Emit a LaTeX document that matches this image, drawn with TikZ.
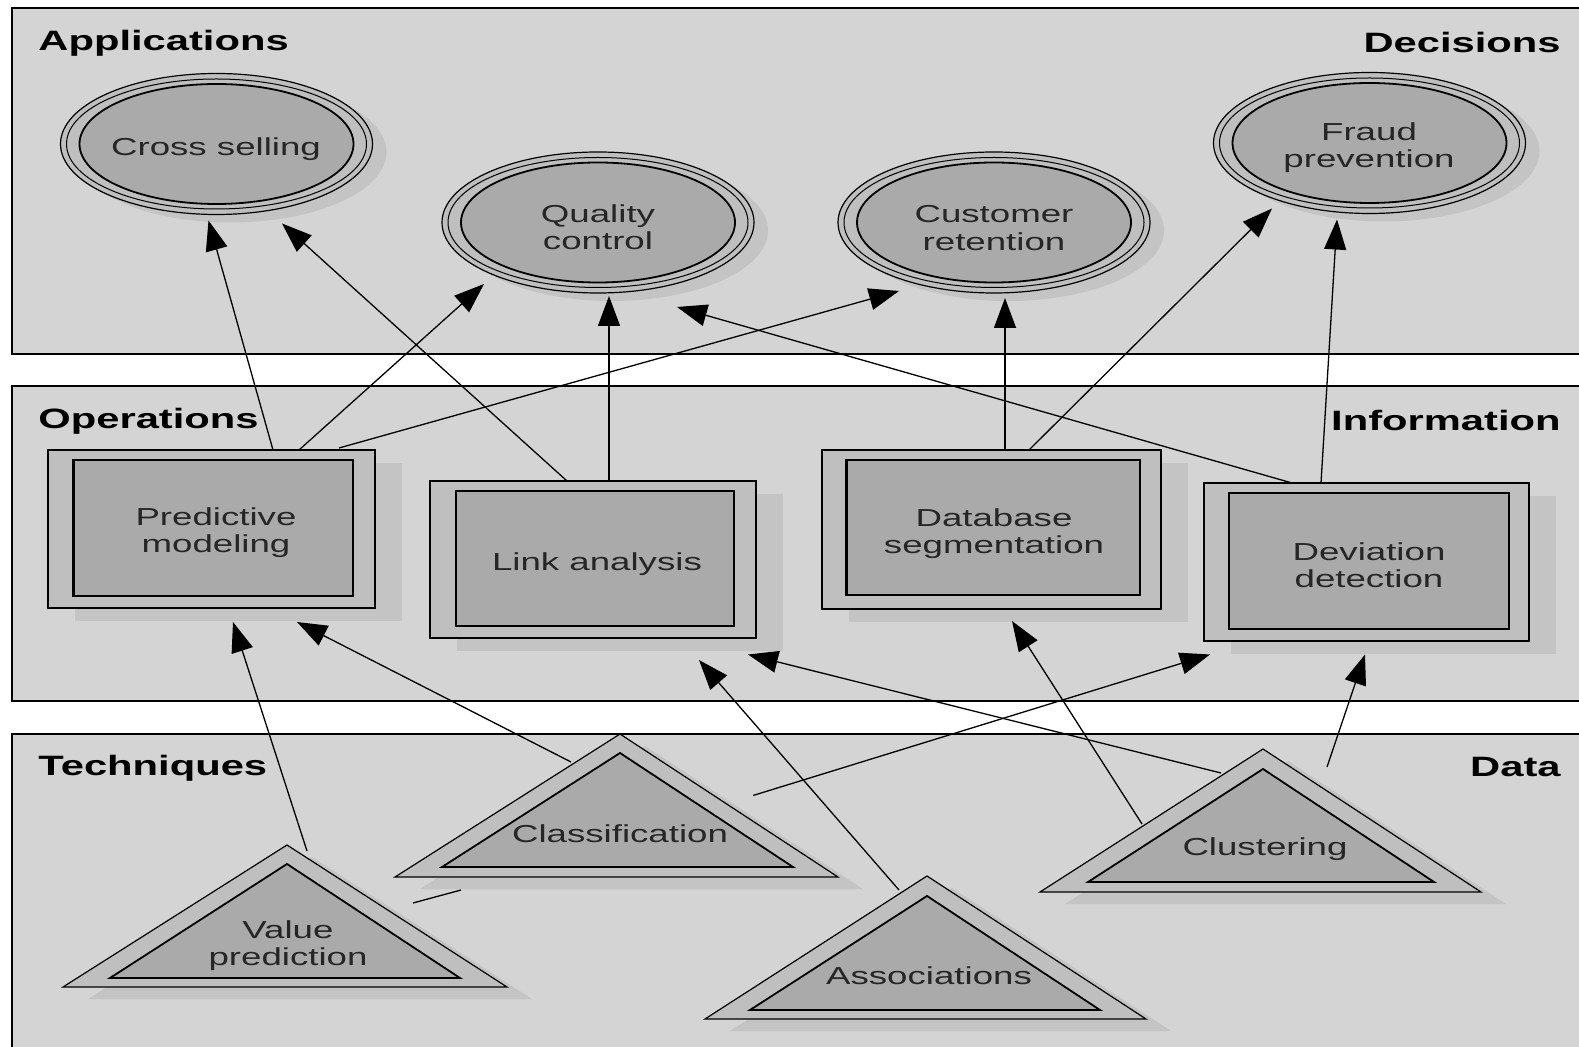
\documentclass[tikz,border=0pt]{standalone}
\usepackage{fontspec}
\setmainfont{Liberation Sans}[FakeStretch=1.49]
\usetikzlibrary{arrows.meta,calc}

\definecolor{panelgray}{gray}{0.83}
\definecolor{castgray}{gray}{0.77}
\definecolor{ringgray}{gray}{0.75}
\definecolor{coregray}{gray}{0.665}
\definecolor{labelink}{gray}{0.15}

% ring-shaped decision oval centred on (#1,#2)
\newcommand\decisionoval[2]{%
  \fill[castshade] (#1+14,#2+8) ellipse [x radius=156, y radius=70.5];
  \draw[ring] (#1,#2) ellipse [x radius=156, y radius=70.5];
  \draw[thinline] (#1,#2) ellipse [x radius=150, y radius=65];
  \draw[core] (#1,#2) ellipse [x radius=137, y radius=60];
}
% framed operation box: outer corners, then inner corners
\newcommand\operationbox[8]{%
  \fill[castshade] (#1+27,#2+13) rectangle (#3+27,#4+13);
  \draw[ring] (#1,#2) rectangle (#3,#4);
  \draw[core] (#5,#6) rectangle (#7,#8);
}
% technique triangle: apex x, apex y, base y, base left, base right,
% inner apex y, inner base y, inner base left, inner base right
\newcommand\techtriangle[9]{%
  \fill[castshade] (#1+25,#2+12) -- (#5+25,#3+12) -- (#4+25,#3+12) -- cycle;
  \draw[ring] (#1,#2) -- (#5,#3) -- (#4,#3) -- cycle;
  \draw[core] (#1,#6) -- (#9,#7) -- (#8,#7) -- cycle;
}

\begin{document}
\begin{tikzpicture}[x=0.5pt,y=-0.5pt,
  panel/.style={fill=panelgray, draw=black, line width=0.9pt},
  heading/.style={font=\fontsize{14}{16}\selectfont\bfseries, inner sep=0pt},
  lbl/.style={font=\fontsize{12.3}{13.6}\selectfont, text=labelink, align=center, inner sep=0pt},
  castshade/.style={fill=castgray},
  ring/.style={fill=ringgray, draw=black, line width=0.6pt},
  thinline/.style={draw=black, line width=0.5pt},
  core/.style={fill=coregray, draw=black, line width=0.9pt},
  conn/.style={draw=black, line width=0.65pt},
  arr/.style={conn, -{Triangle[length=15pt,width=11pt]}},
]
\useasboundingbox (0,0) rectangle (1579,1047);
\clip (0,0) rectangle (1579,1047);
\fill[white] (0,0) rectangle (1579,1047);

% three layers
\draw[panel] (12,8) rectangle (1600,354);
\draw[panel] (12,386) rectangle (1600,701);
\draw[panel] (12,734) rectangle (1600,1070);

\node[heading, anchor=west] (hApp) at (38,43) {Applications};
\node[heading, anchor=east] (hDec) at (1561,42) {Decisions};
\node[heading, anchor=west] (hOps) at (38,421) {Operations};
\node[heading, anchor=east] (hInf) at (1561,420) {Information};
\node[heading, anchor=west] (hTec) at (38,768) {Techniques};
\node[heading, anchor=east] (hDat) at (1561,767) {Data};

% applications
\decisionoval{216.5}{144}
\decisionoval{598}{222.5}
\decisionoval{994}{222.5}
\decisionoval{1369.5}{143}
\node[lbl] (cs) at (216,149) {Cross selling};
\node[lbl] (qc) at (598,227) {Quality\\control};
\node[lbl] (cr) at (994,228) {Customer\\retention};
\node[lbl] (fp) at (1369,148) {Fraud\\prevention};

% operations
\operationbox{48}{450}{375}{608}{73}{460}{353}{596}
\operationbox{430}{481}{756}{638}{456}{491}{734}{626}
\operationbox{822}{450}{1161}{609}{846}{460}{1140}{595}
\operationbox{1204}{483}{1529}{641}{1229}{493}{1509}{629}
\draw[line width=1.8pt] (73.5,460) -- (73.5,596);
\draw[line width=1.8pt] (846.5,460) -- (846.5,595);
\node[lbl] (pm) at (216,533) {Predictive\\modeling};
\node[lbl] (la) at (597,564) {Link analysis};
\node[lbl] (ds) at (994,534) {Database\\segmentation};
\node[lbl] (dd) at (1369,565) {Deviation\\detection};

% techniques
\techtriangle{620}{734}{877}{395}{838}{753}{867}{442}{793}
\techtriangle{287}{845}{987}{63}{507}{864}{978}{110}{460}
\techtriangle{927}{876}{1019}{705}{1146}{896}{1010}{750}{1100}
\techtriangle{1263}{749}{892}{1040}{1481}{769}{882}{1088}{1434}
\node[lbl] (cl) at (620,834) {Classification};
\node[lbl] (vp) at (288,946) {Value\\prediction};
\node[lbl] (as) at (929,976) {Associations};
\node[lbl] (cu) at (1265,849) {Clustering};

% connector end points on the shapes
\coordinate (pm-a) at (273,450);   \coordinate (cs-a) at (208.5,220.5);
\coordinate (pm-b) at (299,450);   \coordinate (qc-a) at (484,284);
\coordinate (pm-c) at (339,448);   \coordinate (cr-a) at (899,291);
\coordinate (la-a) at (567,481);   \coordinate (cs-b) at (282,223.5);
\coordinate (la-b) at (609,481);   \coordinate (qc-b) at (609,296);
\coordinate (dd-a) at (1292,483);  \coordinate (qc-c) at (677,307);
\coordinate (ds-a) at (1005,450);  \coordinate (cr-b) at (1005,298);
\coordinate (ds-b) at (1029,450);  \coordinate (fp-a) at (1272,208.5);
\coordinate (dd-b) at (1321,483);  \coordinate (fp-b) at (1337,219.5);
\coordinate (vp-a) at (307,851);   \coordinate (pm-d) at (233,622);
\coordinate (cl-a) at (571,762);   \coordinate (pm-e) at (297,622);
\coordinate (as-a) at (899,890);   \coordinate (la-c) at (699,660);
\coordinate (cl-b) at (753,795.5); \coordinate (dd-c) at (1210,654.5);
\coordinate (cu-a) at (1221,773);  \coordinate (la-d) at (748,654.5);
\coordinate (cu-b) at (1142,824);  \coordinate (ds-c) at (1012,621);
\coordinate (cu-c) at (1327,767);  \coordinate (dd-d) at (1365,654.5);
\coordinate (vp-b) at (413,903);   \coordinate (vp-c) at (461,890);

% operations feeding decisions
\draw[arr] (pm-a) -- (cs-a);
\draw[arr] (pm-b) -- (qc-a);
\draw[arr] (pm-c) -- (cr-a);
\draw[arr] (la-a) -- (cs-b);
\draw[arr] (la-b) -- (qc-b);
\draw[arr] (dd-a) -- (qc-c);
\draw[arr] (ds-a) -- (cr-b);
\draw[arr] (ds-b) -- (fp-a);
\draw[arr] (dd-b) -- (fp-b);

% techniques feeding operations
\draw[arr] (vp-a) -- (pm-d);
\draw[arr] (cl-a) -- (pm-e);
\draw[arr] (as-a) -- (la-c);
\draw[arr] (cl-b) -- (dd-c);
\draw[arr] (cu-a) -- (la-d);
\draw[arr] (cu-b) -- (ds-c);
\draw[arr] (cu-c) -- (dd-d);
\draw[conn] (vp-b) -- (vp-c);
\end{tikzpicture}
\end{document}
